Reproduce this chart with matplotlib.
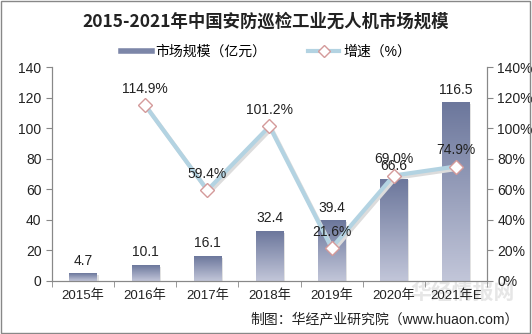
import numpy as np
import matplotlib.pyplot as plt
from matplotlib.patches import Rectangle
from matplotlib.lines import Line2D
from matplotlib.colors import LinearSegmentedColormap

plt.rcParams['font.family'] = ['Liberation Sans', 'Noto Sans CJK SC']

years = ['2015年', '2016年', '2017年', '2018年', '2019年', '2020年', '2021年E']
scale = [4.7, 10.1, 16.1, 32.4, 39.4, 66.6, 116.5]
growth_years = ['2016年', '2017年', '2018年', '2019年', '2020年', '2021年E']
growth = [114.9, 59.4, 101.2, 21.6, 69.0, 74.9]

fig = plt.figure(figsize=(5.32, 3.34), dpi=100)

# faint watermark, behind the axes
fig.text(0.87, 0.125, '华经情报网', ha='center', va='center', fontsize=15, color='#e6e6e6',
         fontweight='bold', zorder=-1, family='Noto Sans CJK SC')

ax = fig.add_axes([0.0977, 0.1587, 0.8177, 0.6407])
ax.patch.set_alpha(0)
ax2 = ax.twinx()
ax2.patch.set_alpha(0)

x = np.arange(len(years))
gx = [years.index(y) for y in growth_years]

# bars with vertical gradient
bars = ax.bar(x, scale, width=0.44, color='none', zorder=2)
grad = np.linspace(0, 1, 256).reshape(-1, 1)
cmap = LinearSegmentedColormap.from_list('g', ['#c2c6d9', '#6c779c'])
for b in bars:
    x0, w, h = b.get_x(), b.get_width(), b.get_height()
    ax.add_patch(Rectangle((x0 + 0.03, 0), w, h - 0.8, color='#e2e2e2', zorder=1, lw=0))
    ax.imshow(grad, extent=[x0, x0 + w, 0, h], origin='lower', aspect='auto',
              cmap=cmap, zorder=2)
for xi, v in zip(x, scale):
    ax.text(xi, v + 4, f'{v}', ha='center', va='bottom', fontsize=10, color='#222222')

ax.set_xlim(-0.5, len(years) - 0.5)
ax.set_ylim(0, 140)
ax.set_yticks(range(0, 141, 20))
ax.set_xticks(x)
ax.set_xticklabels(years, fontsize=9.5, color='#222222')
ax.set_xticks(np.arange(-0.5, len(years), 1), minor=True)
ax.tick_params(axis='x', which='major', length=0, pad=6)
ax.tick_params(axis='x', which='minor', length=4, color='#888888')
ax.tick_params(axis='y', labelsize=10, length=4, color='#888888', labelcolor='#222222')

# growth line
ax2.plot(np.array(gx) + 0.03, np.array(growth) - 1.5, color='#dcdcdc', lw=3, zorder=3)
ax2.plot(gx, growth, color='#b3d3e2', lw=3, zorder=4,
         marker='D', markersize=7, markerfacecolor='white',
         markeredgecolor='#d49a9a', markeredgewidth=1)
for xi, v in zip(gx, growth):
    ax2.text(xi, v + 6, f'{v:.1f}%', ha='center', va='bottom', fontsize=10,
             color='#222222', zorder=6)
ax2.set_ylim(0, 140)
ax2.set_yticks(range(0, 141, 20))
ax2.set_yticklabels([f'{v}%' for v in range(0, 141, 20)])
ax2.tick_params(axis='y', labelsize=10, length=4, color='#888888', labelcolor='#222222')

for a in (ax, ax2):
    a.spines['top'].set_visible(False)
    for s in ['left', 'right', 'bottom']:
        a.spines[s].set_color('#888888')

# title and legend
fig.text(0.5, 0.935, '2015-2021年中国安防巡检工业无人机市场规模', ha='center', va='center',
         fontsize=12.5, fontweight='bold', color='#222222', family='Noto Sans CJK SC')
handles = [Line2D([], [], color='#7c86a8', lw=4),
           Line2D([], [], color='#b3d3e2', lw=3, marker='D', markersize=6,
                  markerfacecolor='white', markeredgecolor='#d49a9a')]
fig.legend(handles, ['市场规模（亿元）', '增速（%）'], loc='center', bbox_to_anchor=(0.5, 0.845),
           ncol=2, frameon=False, fontsize=10, handlelength=2.2, columnspacing=3,
           handletextpad=0.3)

fig.text(0.975, 0.045, '制图：华经产业研究院（www.huaon.com）', ha='right', va='center',
         fontsize=10, color='#222222')

# outer frame
fig.patches.append(Rectangle((0.002, 0.003), 0.995, 0.993, transform=fig.transFigure,
                             fill=False, edgecolor='#888888', lw=1))

fig.savefig('out.png', dpi=100)
